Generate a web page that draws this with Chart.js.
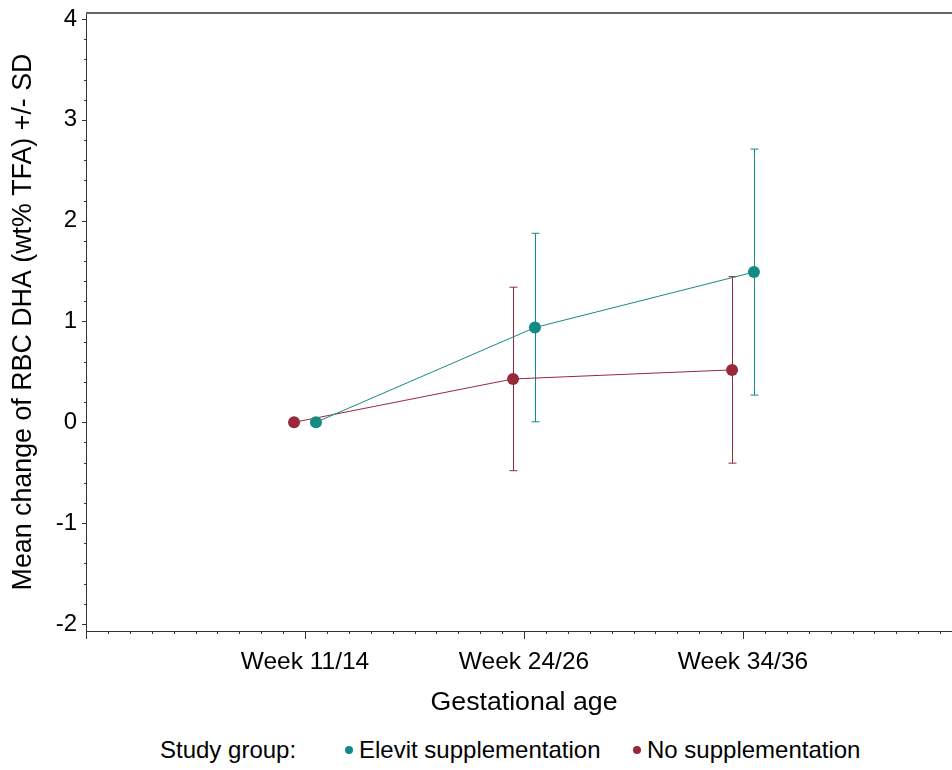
<!DOCTYPE html>
<html>
<head>
<meta charset="utf-8">
<script src="https://cdn.jsdelivr.net/npm/chart.js@4/dist/chart.umd.min.js"></script>
<style>
  html, body { margin: 0; padding: 0; background: #fff; }
  body { width: 952px; height: 770px; overflow: hidden; position: relative; font-family: "Liberation Sans", Arial, sans-serif; }
  #wrap { position: absolute; left: 0; top: 0; width: 962px; height: 725px; }
  #legend { position: absolute; top: 735px; left: 0; height: 30px; line-height: 30px; font-size: 24px; color: #000; }
  #legend span { position: absolute; white-space: nowrap; }
  .dot { width: 8px; height: 8px; border-radius: 50%; top: 11px; }
</style>
</head>
<body>
<div id="wrap"><canvas id="chart" width="962" height="725"></canvas></div>
<div id="legend">
  <span style="left:160px">Study group:</span>
  <span class="dot" style="left:345px;background:#128a85"></span>
  <span style="left:359px">Elevit supplementation</span>
  <span class="dot" style="left:633px;background:#98283a"></span>
  <span style="left:647px">No supplementation</span>
</div>
<script>
// --- datos ---
const categories = ['Week 11/14', 'Week 24/26', 'Week 34/36'];
const elevitMean = [0, 0.94, 1.49];
const elevitSD = [0, 0.935, 1.22];
const noSuppMean = [0, 0.43, 0.52];
const noSuppSD = [0, 0.91, 0.925];
const yTickLabels = [-2, -1, 0, 1, 2, 3, 4];

const TEAL = '#128a85';
const RED = '#98283a';
const OFFSET = 0.05; // desplazamiento horizontal de cada grupo

function toPoints(means, shift) {
    return means.map((m, i) => ({ x: i + shift, y: m }));
}

// ticks menores generados a partir de los mayores
function buildTicks(majors, steps) {
    const out = [];
    for (let i = 0; i < majors.length - 1; i++) {
        for (let k = 0; k < steps; k++) {
            out.push({ value: +(majors[i] + (majors[i + 1] - majors[i]) * k / steps).toFixed(4) });
        }
    }
    out.push({ value: majors[majors.length - 1] });
    return out;
}
const xMajors = [-1, 0, 1, 2, 3];

// --- barras de error (SD) ---
const errorBars = {
    id: 'errorBars',
    beforeDatasetsDraw(chart) {
        const { ctx, scales: { x, y } } = chart;
        chart.data.datasets.forEach((ds) => {
            ds.data.forEach((p, i) => {
                const sd = ds.sd[i];
                if (!sd) return;
                const px = Math.round(x.getPixelForValue(p.x)) + 0.5;
                const top = y.getPixelForValue(p.y + sd);
                const bot = y.getPixelForValue(p.y - sd);
                ctx.save();
                ctx.strokeStyle = ds.borderColor;
                ctx.lineWidth = 1;
                ctx.beginPath();
                ctx.moveTo(px, top); ctx.lineTo(px, bot);
                ctx.moveTo(px - 4, top); ctx.lineTo(px + 4, top);
                ctx.moveTo(px - 4, bot); ctx.lineTo(px + 4, bot);
                ctx.stroke();
                ctx.restore();
            });
        });
    }
};

// --- marcas de los ejes (mayores y menores) + marco superior ---
const axisMarks = {
    id: 'axisMarks',
    afterDraw(chart) {
        const { ctx, chartArea, scales: { x, y } } = chart;
        ctx.save();
        ctx.strokeStyle = '#333';
        ctx.lineWidth = 1;
        ctx.beginPath();
        x.ticks.forEach(t => {
            const px = Math.round(x.getPixelForValue(t.value)) + 0.5;
            const len = Number.isInteger(t.value) ? 8 : 3;
            ctx.moveTo(px, chartArea.bottom);
            ctx.lineTo(px, chartArea.bottom + len);
        });
        y.ticks.forEach(t => {
            const py = Math.round(y.getPixelForValue(t.value)) + 0.5;
            const len = Number.isInteger(Math.round(t.value * 1000) / 1000) ? 4 : 2;
            ctx.moveTo(chartArea.left, py);
            ctx.lineTo(chartArea.left - len, py);
        });
        ctx.stroke();
        ctx.strokeStyle = '#666';
        ctx.lineWidth = 2;
        ctx.beginPath();
        ctx.moveTo(chartArea.left, chartArea.top);
        ctx.lineTo(chartArea.right, chartArea.top);
        ctx.stroke();
        ctx.restore();
    }
};

const FONT = '"Liberation Sans", Arial, sans-serif';

new Chart(document.getElementById('chart'), {
    type: 'line',
    data: {
        datasets: [
            {
                label: 'Elevit supplementation',
                data: toPoints(elevitMean, OFFSET),
                sd: elevitSD,
                borderColor: TEAL,
                backgroundColor: TEAL,
                borderWidth: 1,
                pointRadius: 6,
                pointBorderWidth: 0,
                tension: 0
            },
            {
                label: 'No supplementation',
                data: toPoints(noSuppMean, -OFFSET),
                sd: noSuppSD,
                borderColor: RED,
                backgroundColor: RED,
                borderWidth: 1,
                pointRadius: 6,
                pointBorderWidth: 0,
                tension: 0
            }
        ]
    },
    options: {
        responsive: false,
        animation: false,
        devicePixelRatio: 1,
        layout: { autoPadding: false, padding: { top: 13, left: 0, right: 0, bottom: 0 } },
        plugins: { legend: { display: false }, tooltip: { enabled: false } },
        scales: {
            x: {
                type: 'linear',
                min: -1,
                max: 3,
                afterFit(s) { s.height = 94; s.paddingLeft = 0; s.paddingRight = 0; },
                afterBuildTicks(s) { s.ticks = buildTicks(xMajors, 10); },
                grid: { display: false, drawTicks: false },
                border: { display: true, color: '#333', width: 1 },
                ticks: {
                    autoSkip: false,
                    maxRotation: 0,
                    padding: 17,
                    color: '#000',
                    font: { family: FONT, size: 24.5 },
                    callback(v) {
                        const i = Math.round(v);
                        return (Math.abs(v - i) < 1e-6 && categories[i]) ? categories[i] : '';
                    }
                },
                title: {
                    display: true,
                    text: 'Gestational age',
                    color: '#000',
                    font: { family: FONT, size: 26.7 },
                    padding: { top: 0, bottom: 6 }
                }
            },
            y: {
                min: -2.07,
                max: 4.06,
                afterFit(s) { s.width = 86; s.paddingTop = 0; s.paddingBottom = 0; },
                afterBuildTicks(s) { s.ticks = buildTicks(yTickLabels, 5); },
                grid: { display: false, drawTicks: false },
                border: { display: true, color: '#333', width: 1 },
                ticks: {
                    autoSkip: false,
                    padding: 9,
                    color: '#000',
                    font: { family: FONT, size: 24 },
                    callback(v) {
                        const r = Math.round(v);
                        return Math.abs(v - r) < 1e-6 ? String(r) : '';
                    }
                },
                title: {
                    display: true,
                    text: 'Mean change of RBC DHA (wt% TFA) +/- SD',
                    color: '#000',
                    font: { family: FONT, size: 26.8 },
                    padding: { top: 8, bottom: 0 }
                }
            }
        }
    },
    plugins: [errorBars, axisMarks]
});
</script>
</body>
</html>
